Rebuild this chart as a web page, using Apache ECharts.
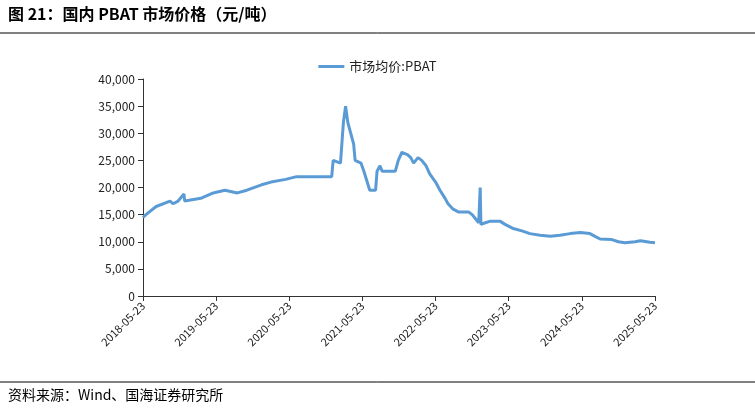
<!DOCTYPE html>
<html><head><meta charset="utf-8">
<script src="https://cdn.jsdelivr.net/npm/echarts@6/dist/echarts.min.js"></script>
<style>body{margin:0}#c{width:755px;height:413px}</style></head>
<body><div id="c"></div>
<script>
// [years since 2018-05-23, price 元/吨]
const points = [
[0,14500],[0.04,15000],[0.18,16500],[0.37,17500],[0.41,17000],[0.48,17500],[0.56,18800],[0.57,17500],
[0.79,18000],[0.96,19000],[1.12,19500],[1.29,19000],[1.42,19500],[1.62,20500],[1.75,21000],[1.95,21500],
[2.1,22000],[2.58,22000],[2.6,25000],[2.7,24500],[2.74,32000],[2.77,35000],[2.8,32000],[2.84,30000],
[2.88,28000],[2.9,25000],[2.98,24500],[3.02,23000],[3.1,19500],[3.18,19500],[3.2,23000],[3.24,24000],
[3.27,23000],[3.45,23000],[3.49,25000],[3.54,26500],[3.62,26000],[3.66,25500],[3.7,24500],[3.76,25500],
[3.81,25000],[3.87,24000],[3.92,22500],[4.0,21000],[4.06,19500],[4.13,18000],[4.17,17000],[4.24,16000],
[4.31,15500],[4.45,15500],[4.5,15000],[4.56,14000],[4.59,13500],[4.6,13500],[4.61,20000],[4.62,13200],
[4.68,13500],[4.75,13800],[4.88,13800],[4.95,13200],[5.05,12500],[5.18,12000],[5.29,11500],[5.43,11200],
[5.57,11000],[5.7,11200],[5.84,11500],[5.98,11700],[6.11,11500],[6.18,11000],[6.25,10500],[6.41,10400],
[6.5,10000],[6.59,9800],[6.73,10000],[6.8,10200],[6.93,9900],[7.0,9800]
];
const yTicks = [0,5000,10000,15000,20000,25000,30000,35000,40000];
const seriesName = '市场均价:PBAT';
const chart = echarts.init(document.getElementById('c'));
chart.setOption({
  animation:false,
  textStyle:{fontFamily:'Noto Sans CJK SC'},
  graphic:[
    {type:'text',left:8,top:6,style:{text:'图 21：国内 PBAT 市场价格（元/吨）',font:'bold 16px "Noto Sans CJK SC"',fill:'#000'}},
    {type:'line',shape:{x1:0,y1:33,x2:755,y2:33},style:{stroke:'#000',lineWidth:1}},
    {type:'line',shape:{x1:0,y1:382,x2:755,y2:382},style:{stroke:'#000',lineWidth:1}},
    {type:'text',left:8,top:388,style:{text:'资料来源：Wind、国海证券研究所',font:'14px "Noto Sans CJK SC"',fill:'#000'}}
  ],
  legend:{top:55,left:'center',itemWidth:26,itemHeight:3,icon:'rect',textStyle:{fontSize:13,color:'#222'},data:[seriesName]},
  grid:{left:143,right:100,top:79,bottom:117},
  xAxis:{type:'value',min:0,max:7,interval:1,
    axisLine:{lineStyle:{color:'#333'}},axisTick:{show:true,lineStyle:{color:'#333'}},splitLine:{show:false},
    axisLabel:{rotate:45,fontSize:11,color:'#222',formatter:v=>(2018+Math.round(v))+'-05-23'}},
  yAxis:{type:'value',min:0,max:40000,interval:5000,
    axisLine:{show:true,lineStyle:{color:'#333'}},axisTick:{show:true,lineStyle:{color:'#333'}},splitLine:{show:false},
    axisLabel:{fontSize:12,color:'#222',formatter:v=>yTicks.includes(v)?v.toLocaleString('en-US'):''}},
  series:[{name:seriesName,type:'line',data:points,symbol:'none',
    lineStyle:{color:'#5b9bd5',width:3},itemStyle:{color:'#5b9bd5'}}]
});
</script></body></html>
